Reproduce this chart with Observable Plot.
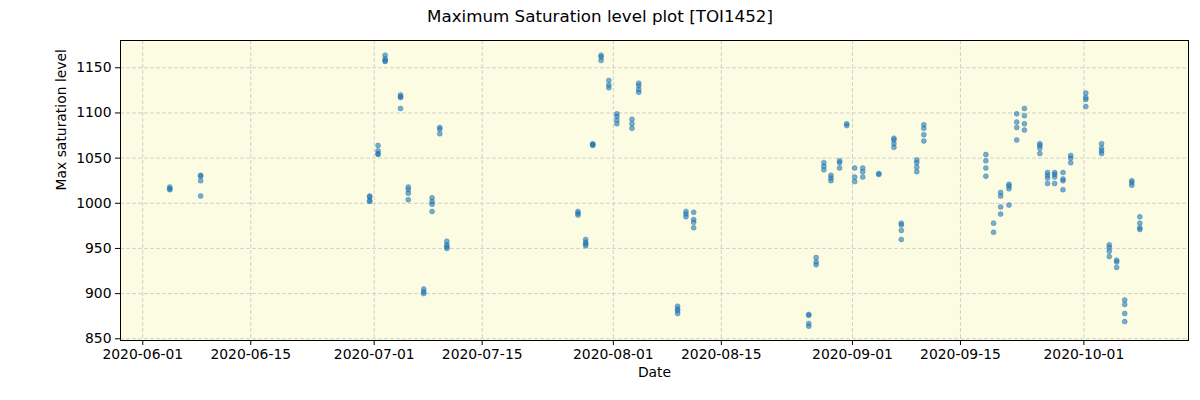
<!DOCTYPE html>
<html>
<head>
<meta charset="utf-8">
<script src="https://cdn.jsdelivr.net/npm/d3@7"></script>
<script src="https://cdn.jsdelivr.net/npm/@observablehq/plot@0.6"></script>
<style>
  html, body { margin: 0; padding: 0; background: white; }
  #title { width: 1200px; height: 30px; line-height: 32px; text-align: center;
           font-family: "DejaVu Sans", sans-serif; font-size: 16.7px; color: black; }
</style>
</head>
<body>
<div id="title">Maximum Saturation level plot [TOI1452]</div>
<div id="chart"></div>
<script>
// Observation nights (UTC) and the max saturation levels measured on each
const nightTimes = [
  "2020-06-04T12:00Z", "2020-06-08T12:00Z", "2020-06-30T10:00Z", "2020-07-01T12:00Z",
  "2020-07-02T10:00Z", "2020-07-04T10:00Z", "2020-07-05T10:00Z", "2020-07-07T10:00Z",
  "2020-07-08T12:00Z", "2020-07-09T12:00Z", "2020-07-10T10:00Z", "2020-07-27T10:00Z",
  "2020-07-28T10:00Z", "2020-07-29T08:00Z", "2020-07-30T10:00Z", "2020-07-31T10:00Z",
  "2020-08-01T11:00Z", "2020-08-03T10:00Z", "2020-08-04T07:00Z", "2020-08-09T08:00Z",
  "2020-08-10T10:00Z", "2020-08-11T10:00Z", "2020-08-26T08:00Z", "2020-08-27T07:00Z",
  "2020-08-28T07:00Z", "2020-08-29T05:00Z", "2020-08-30T08:00Z", "2020-08-31T06:00Z",
  "2020-09-01T07:00Z", "2020-09-02T08:00Z", "2020-09-04T10:00Z", "2020-09-06T09:00Z",
  "2020-09-07T08:00Z", "2020-09-09T08:00Z", "2020-09-10T06:00Z", "2020-09-18T07:00Z",
  "2020-09-19T07:00Z", "2020-09-20T05:00Z", "2020-09-21T07:00Z", "2020-09-22T07:00Z",
  "2020-09-23T07:00Z", "2020-09-25T07:00Z", "2020-09-26T07:00Z", "2020-09-27T05:00Z",
  "2020-09-28T07:00Z", "2020-09-29T07:00Z", "2020-10-01T06:00Z", "2020-10-03T07:00Z",
  "2020-10-04T07:00Z", "2020-10-05T06:00Z", "2020-10-06T07:00Z", "2020-10-07T05:00Z",
  "2020-10-08T06:00Z"
];
const nightValues = [
  [1018, 1016, 1015], [1031, 1030, 1025, 1008], [1008, 1007, 1003, 1002], [1064, 1058, 1055, 1054],
  [1164, 1160, 1158, 1157], [1120, 1118, 1117, 1105], [1018, 1015, 1011, 1004], [905, 902, 900],
  [1006, 1002, 999, 991], [1084, 1082, 1077], [958, 954, 952, 950], [991, 989, 987],
  [960, 957, 955, 953], [1066, 1065, 1064], [1164, 1162, 1158], [1136, 1131, 1128],
  [1099, 1096, 1092, 1088], [1093, 1088, 1083], [1133, 1130, 1126, 1123], [886, 883, 881, 878],
  [991, 988, 985], [990, 982, 979, 973], [877, 876, 867, 864], [940, 935, 932],
  [1045, 1041, 1037], [1031, 1028, 1025], [1047, 1045, 1039], [1088, 1086],
  [1039, 1029, 1024], [1039, 1035, 1029], [1033, 1032], [1072, 1070, 1066, 1062],
  [978, 976, 970, 960], [1048, 1045, 1040, 1035], [1087, 1083, 1076, 1069], [1054, 1047, 1039, 1030],
  [978, 968], [1012, 1008, 996, 988], [1021, 1019, 1016, 998], [1099, 1090, 1084, 1070],
  [1105, 1097, 1088, 1081], [1066, 1064, 1061, 1055], [1034, 1031, 1028, 1022], [1034, 1032, 1029, 1022],
  [1034, 1027, 1025, 1015], [1053, 1050, 1045], [1122, 1117, 1115, 1107], [1066, 1061, 1058, 1055],
  [954, 951, 947, 941], [937, 935, 929], [893, 888, 878, 869], [1025, 1023, 1020],
  [985, 978, 973, 971]
];
const xTickLabels = ["2020-06-01", "2020-06-15", "2020-07-01", "2020-07-15", "2020-08-01",
                     "2020-08-15", "2020-09-01", "2020-09-15", "2020-10-01"];
const yTickValues = [850, 900, 950, 1000, 1050, 1100, 1150];
const xDomain = ["2020-05-29T02:40Z", "2020-10-14T13:30Z"];
const yDomain = [848.1, 1180.2];

const points = [];
nightTimes.forEach((t, i) => nightValues[i].forEach(v => points.push({date: new Date(t), value: v})));
const xTicks = xTickLabels.map(s => new Date(s + "T00:00Z"));

const chart = Plot.plot({
  width: 1200,
  height: 370,
  marginTop: 10,
  marginBottom: 60,
  marginLeft: 120,
  marginRight: 12,
  style: {fontFamily: "DejaVu Sans, sans-serif", fontSize: "13.9px", color: "black", background: "white", overflow: "visible"},
  x: {type: "utc", domain: xDomain.map(d => new Date(d))},
  y: {domain: yDomain},
  marks: [
    Plot.frame({fill: "#fcfce3", stroke: null}),
    Plot.gridX(xTicks, {stroke: "#cccccc", strokeOpacity: 1, strokeWidth: 0.9, strokeDasharray: "4,2"}),
    Plot.gridY(yTickValues, {stroke: "#cccccc", strokeOpacity: 1, strokeWidth: 0.9, strokeDasharray: "4,2"}),
    Plot.dot(points, {x: "date", y: "value", r: 2.5, fill: "#1f77b4", fillOpacity: 0.6,
                      stroke: "#1f77b4", strokeOpacity: 0.6, strokeWidth: 0.6}),
    Plot.frame({stroke: "black", strokeWidth: 1}),
    Plot.axisX(xTicks, {tickFormat: d3.utcFormat("%Y-%m-%d"), tickSize: 5, tickPadding: 4, label: null, stroke: "black"}),
    Plot.axisY(yTickValues, {tickFormat: d3.format("d"), tickSize: 5, tickPadding: 4, label: null, stroke: "black"}),
    Plot.text(["Date"], {frameAnchor: "bottom", dy: 36, fontSize: 13.9}),
    Plot.text(["Max saturation level"], {frameAnchor: "left", dx: -59, rotate: -90, fontSize: 13.9})
  ]
});
document.getElementById("chart").appendChild(chart);
</script>
</body>
</html>
